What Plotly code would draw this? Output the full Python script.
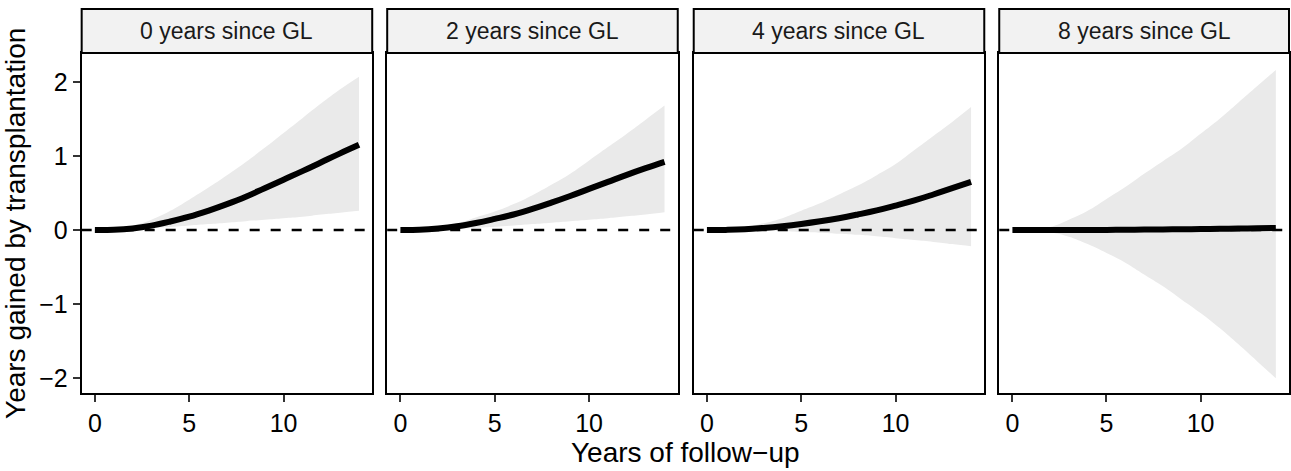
import plotly.graph_objects as go

# ---------------- data ----------------
panel_titles = ["0 years since GL", "2 years since GL", "4 years since GL", "8 years since GL"]
follow_up = [0, 1, 2, 3, 4, 5, 6, 7, 8, 9, 10, 11, 12, 13, 14]

gain_0 = [0, 0.003, 0.022, 0.06, 0.115, 0.18, 0.26, 0.35, 0.45, 0.565, 0.68, 0.795, 0.915, 1.035, 1.15]
lower_0 = [0, 0, 0.01, 0.025, 0.04, 0.06, 0.08, 0.10, 0.12, 0.14, 0.16, 0.18, 0.21, 0.235, 0.26]
upper_0 = [0, 0.01, 0.06, 0.14, 0.26, 0.41, 0.57, 0.74, 0.92, 1.11, 1.31, 1.51, 1.71, 1.90, 2.07]

gain_2 = [0, 0.003, 0.02, 0.05, 0.095, 0.15, 0.21, 0.285, 0.37, 0.46, 0.555, 0.65, 0.745, 0.835, 0.92]
lower_2 = [0, 0, 0.005, 0.015, 0.03, 0.045, 0.06, 0.08, 0.10, 0.12, 0.14, 0.16, 0.185, 0.21, 0.24]
upper_2 = [0, 0.01, 0.04, 0.09, 0.17, 0.25, 0.35, 0.47, 0.61, 0.76, 0.94, 1.12, 1.30, 1.49, 1.68]

gain_4 = [0, 0.002, 0.01, 0.028, 0.052, 0.082, 0.118, 0.16, 0.21, 0.265, 0.33, 0.40, 0.48, 0.565, 0.65]
lower_4 = [0, 0, 0, -0.005, -0.015, -0.025, -0.035, -0.05, -0.065, -0.085, -0.11, -0.135, -0.16, -0.19, -0.22]
upper_4 = [0, 0.01, 0.04, 0.09, 0.16, 0.26, 0.36, 0.48, 0.60, 0.74, 0.89, 1.08, 1.27, 1.46, 1.66]

gain_8 = [0, 0, 0, 0, 0.001, 0.002, 0.004, 0.006, 0.008, 0.01, 0.013, 0.016, 0.02, 0.024, 0.028]
lower_8 = [0, -0.002, -0.03, -0.09, -0.19, -0.31, -0.44, -0.60, -0.76, -0.94, -1.12, -1.32, -1.54, -1.77, -2.0]
upper_8 = [0, 0.005, 0.04, 0.14, 0.26, 0.42, 0.58, 0.76, 0.93, 1.10, 1.30, 1.50, 1.72, 1.94, 2.16]

x_ticks = [0, 5, 10]
y_ticks = [-2, -1, 0, 1, 2]
y_tick_labels = ["\u22122", "\u22121", "0", "1", "2"]
x_title = "Years of follow\u2212up"
y_title = "Years gained by transplantation"

series = [(gain_0, lower_0, upper_0), (gain_2, lower_2, upper_2),
          (gain_4, lower_4, upper_4), (gain_8, lower_8, upper_8)]

# ---------------- layout geometry ----------------
W, H = 1291, 471
FONT = "Liberation Sans, Arial, sans-serif"
panel_left_px = [81.8, 387.8, 694.8, 1000.8]
panel_w_px = 291.0
plot_top_px, plot_bot_px = 53.0, 393.0
strip_top_px = 9.0
x_range = [-0.7, 14.7]
y_range = [-2.2, 2.39]

fig = go.Figure()

shapes = []
annotations = []
for i, (title, (mean, lo, hi)) in enumerate(zip(panel_titles, series)):
    n = i + 1
    xa = "x" if n == 1 else f"x{n}"
    ya = "y" if n == 1 else f"y{n}"
    # ribbon
    fig.add_trace(go.Scatter(x=follow_up, y=lo, mode="lines",
                             line=dict(width=0, shape="spline", smoothing=1.2),
                             xaxis=xa, yaxis=ya, showlegend=False, hoverinfo="skip"))
    fig.add_trace(go.Scatter(x=follow_up, y=hi, mode="lines",
                             line=dict(width=0, shape="spline", smoothing=1.2),
                             fill="tonexty", fillcolor="rgb(234,234,234)",
                             xaxis=xa, yaxis=ya, showlegend=False, hoverinfo="skip"))
    # mean line
    fig.add_trace(go.Scatter(x=follow_up, y=mean, mode="lines",
                             line=dict(color="black", width=6, shape="spline", smoothing=1.2),
                             xaxis=xa, yaxis=ya, showlegend=False))

    x0 = panel_left_px[i] / W
    x1 = min((panel_left_px[i] + panel_w_px) / W, 1.0)
    dom_y = [(H - plot_bot_px) / H, (H - plot_top_px) / H]
    axis_common = dict(showgrid=False, zeroline=False, showline=True, mirror=True,
                       linecolor="black", linewidth=2)
    fig.update_layout(**{
        ("xaxis" if n == 1 else f"xaxis{n}"): dict(
            domain=[x0, x1], range=x_range, tickvals=x_ticks, ticks="outside",
            ticklen=7, tickwidth=2, tickcolor="#333333",
            tickfont=dict(family=FONT, size=25, color="black"),
            anchor=ya, **axis_common),
        ("yaxis" if n == 1 else f"yaxis{n}"): dict(
            domain=dom_y, range=y_range, tickvals=y_ticks, ticktext=y_tick_labels,
            ticks="outside" if n == 1 else "", showticklabels=(n == 1),
            ticklen=7, tickwidth=2, tickcolor="#333333",
            tickfont=dict(family=FONT, size=25, color="black"),
            anchor=xa, **axis_common),
    })
    # dashed zero reference line
    shapes.append(dict(type="line", xref=f"{xa} domain", yref=ya, x0=0, x1=1, y0=0, y1=0,
                       line=dict(color="black", width=2.6, dash="10px,11px"), layer="above"))
    # strip
    shapes.append(dict(type="rect", xref="paper", yref="paper", x0=x0, x1=x1,
                       y0=(H - plot_top_px) / H, y1=(H - strip_top_px) / H,
                       fillcolor="#F2F2F2", line=dict(color="black", width=2), layer="above"))
    annotations.append(dict(text=title, xref="paper", yref="paper", x=(x0 + x1) / 2,
                            y=(H - (strip_top_px + plot_top_px) / 2) / H,
                            xanchor="center", yanchor="middle", showarrow=False,
                            font=dict(family=FONT, size=23, color="#1a1a1a")))

annotations.append(dict(text=x_title, xref="paper", yref="paper",
                        x=(panel_left_px[0] + W) / 2 / W, y=(H - 452) / H,
                        xanchor="center", yanchor="middle", showarrow=False,
                        font=dict(family=FONT, size=28, color="black")))
annotations.append(dict(text=y_title, xref="paper", yref="paper", textangle=-90,
                        x=15 / W, y=(H - (plot_top_px + plot_bot_px) / 2) / H,
                        xanchor="center", yanchor="middle", showarrow=False,
                        font=dict(family=FONT, size=28, color="black")))

fig.update_layout(width=W, height=H, autosize=False,
                  margin=dict(l=0, r=0, t=0, b=0, pad=0),
                  paper_bgcolor="white", plot_bgcolor="white",
                  shapes=shapes, annotations=annotations, showlegend=False,
                  hovermode=False)

fig.write_html("out.html", config={"displayModeBar": False},
               post_script="document.body.style.margin='0';document.body.style.overflow='hidden';")
